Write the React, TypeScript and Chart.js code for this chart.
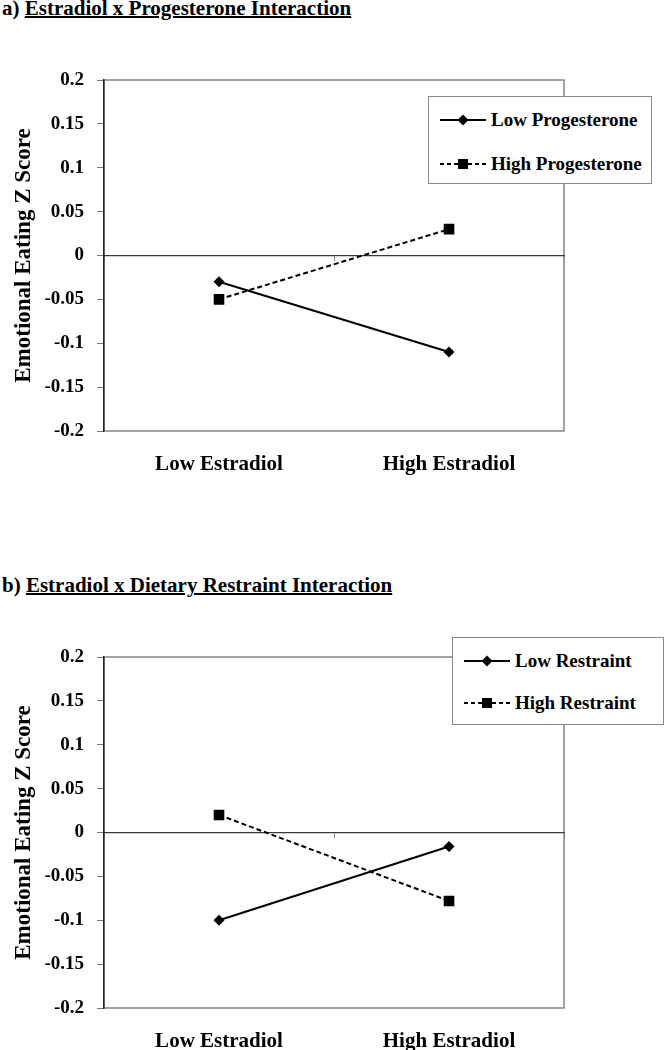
import React, { useEffect, useRef } from "react";
import { Chart, registerables } from "chart.js";

Chart.register(...registerables);

// ---- data ----
const categories = ["Low Estradiol", "High Estradiol"];

const titleA = "Estradiol x Progesterone Interaction";
const seriesANames = ["Low Progesterone", "High Progesterone"];
const lowProgesterone = [-0.03, -0.11];
const highProgesterone = [-0.05, 0.03];

const titleB = "Estradiol x Dietary Restraint Interaction";
const seriesBNames = ["Low Restraint", "High Restraint"];
const lowRestraint = [-0.1, -0.016];
const highRestraint = [0.02, -0.078];

const yTickValues = [-0.2, -0.15, -0.1, -0.05, 0, 0.05, 0.1, 0.15, 0.2];
const yTickLabels = ["-0.2", "-0.15", "-0.1", "-0.05", "0", "0.05", "0.1", "0.15", "0.2"];
const yAxisTitle = "Emotional Eating Z Score";

const FONT = "'Liberation Serif', 'Times New Roman', serif";

const areaBorder = {
  id: "areaBorder",
  beforeDraw(chart: any) {
    const { ctx, chartArea } = chart;
    ctx.save();
    ctx.strokeStyle = "#858585";
    ctx.lineWidth = 1.5;
    ctx.strokeRect(chartArea.left, chartArea.top, chartArea.right - chartArea.left, chartArea.bottom - chartArea.top);
    ctx.restore();
  },
};

function makeConfig(names: string[], s1: number[], s2: number[]) {
  return {
    type: "line",
    data: {
      labels: categories,
      datasets: [
        {
          label: names[0],
          data: s1,
          borderColor: "#000",
          backgroundColor: "#000",
          borderWidth: 2,
          pointStyle: "rectRot",
          pointRadius: 5.5,
          pointBorderWidth: 0,
          fill: false,
        },
        {
          label: names[1],
          data: s2,
          borderColor: "#000",
          backgroundColor: "#000",
          borderWidth: 2,
          borderDash: [5, 3],
          pointStyle: "rect",
          pointRadius: 7.5,
          pointBorderWidth: 0,
          fill: false,
        },
      ],
    },
    options: {
      animation: false,
      responsive: false,
      maintainAspectRatio: false,
      layout: { padding: { top: 30, right: 100, left: 0, bottom: 0 } },
      plugins: { legend: { display: false }, tooltip: { enabled: false }, title: { display: false } },
      scales: {
        x: {
          type: "category",
          offset: true,
          grid: { display: false },
          border: { display: false },
          ticks: { color: "#000", font: { family: FONT, size: 21, weight: "bold" }, padding: 13, maxRotation: 0 },
          afterFit: (s: any) => {
            s.height = 70;
          },
        },
        x2: {
          type: "category",
          labels: categories,
          offset: true,
          position: { y: 0 },
          grid: { display: true, drawOnChartArea: false, drawTicks: true, tickLength: 5, color: "#8a8a8a", offset: true },
          border: { display: true, color: "#3a3a3a", width: 1.2 },
          ticks: { display: false },
          afterFit: (s: any) => {
            s.height = 0;
          },
        },
        y: {
          min: -0.2,
          max: 0.2,
          afterBuildTicks: (s: any) => {
            s.ticks = yTickValues.map((v) => ({ value: v }));
          },
          ticks: {
            color: "#000",
            font: { family: FONT, size: 19, weight: "bold" },
            padding: 13,
            callback: (_v: any, i: number) => yTickLabels[i],
          },
          grid: { display: true, drawOnChartArea: false, drawTicks: true, tickLength: 7, color: "#777" },
          border: { display: true, color: "#222", width: 1.5 },
          title: {
            display: true,
            text: yAxisTitle,
            color: "#000",
            font: { family: FONT, size: 23, weight: "bold" },
            padding: { top: 10, bottom: 0 },
          },
          afterFit: (s: any) => {
            s.width = 104;
          },
        },
      },
    },
    plugins: [areaBorder],
  };
}

function LineChart({ names, s1, s2, top }: { names: string[]; s1: number[]; s2: number[]; top: number }) {
  const ref = useRef<HTMLCanvasElement | null>(null);
  useEffect(() => {
    if (!ref.current) return;
    const chart = new Chart(ref.current, makeConfig(names, s1, s2) as any);
    return () => chart.destroy();
  }, []);
  return (
    <canvas
      ref={ref}
      width={664}
      height={451}
      style={{ position: "absolute", left: 0, top, width: 664, height: 451 }}
    />
  );
}

function Swatch({ dashed, square }: { dashed: boolean; square: boolean }) {
  return (
    <svg width={46} height={14} style={{ display: "block" }}>
      <line x1={0} y1={7} x2={46} y2={7} stroke="#000" strokeWidth={2} strokeDasharray={dashed ? "4 3" : undefined} />
      {square ? (
        <rect x={18} y={2} width={10} height={10} fill="#000" />
      ) : (
        <polygon points="23,1.5 28.5,7 23,12.5 17.5,7" fill="#000" />
      )}
    </svg>
  );
}

function Legend({ names, left, top, width, height, rowY }: any) {
  return (
    <div
      style={{
        position: "absolute",
        left,
        top,
        width,
        height,
        border: "1.5px solid #8a8a8a",
        background: "#fff",
        boxSizing: "border-box",
      }}
    >
      {names.map((n: string, i: number) => (
        <div
          key={n}
          style={{
            position: "absolute",
            left: 11,
            top: rowY[i] - 11,
            height: 22,
            display: "flex",
            alignItems: "center",
            whiteSpace: "nowrap",
          }}
        >
          <Swatch dashed={i === 1} square={i === 1} />
          <span style={{ marginLeft: 5, fontFamily: FONT, fontWeight: "bold", fontSize: 19, color: "#000", lineHeight: "22px" }}>
            {n}
          </span>
        </div>
      ))}
    </div>
  );
}

function Title({ prefix, text, top }: { prefix: string; text: string; top: number }) {
  return (
    <div
      style={{
        position: "absolute",
        left: 2,
        top,
        fontFamily: FONT,
        fontWeight: "bold",
        fontSize: 21,
        lineHeight: "22px",
        color: "#000",
        whiteSpace: "nowrap",
      }}
    >
      {prefix} <span style={{ textDecoration: "underline", textDecorationThickness: 2 }}>{text}</span>
    </div>
  );
}

export default function App() {
  return (
    <div
      style={{
        position: "absolute",
        left: 0,
        top: 0,
        width: 664,
        height: 1050,
        overflow: "hidden",
        background: "#fff",
      }}
    >
      <Title prefix="a)" text={titleA} top={-3} />
      <LineChart names={seriesANames} s1={lowProgesterone} s2={highProgesterone} top={50} />
      <Legend names={seriesANames} left={428} top={96} width={224} height={88} rowY={[23, 67]} />

      <Title prefix="b)" text={titleB} top={574} />
      <LineChart names={seriesBNames} s1={lowRestraint} s2={highRestraint} top={627} />
      <Legend names={seriesBNames} left={452} top={637} width={212} height={88} rowY={[23, 65]} />
    </div>
  );
}
